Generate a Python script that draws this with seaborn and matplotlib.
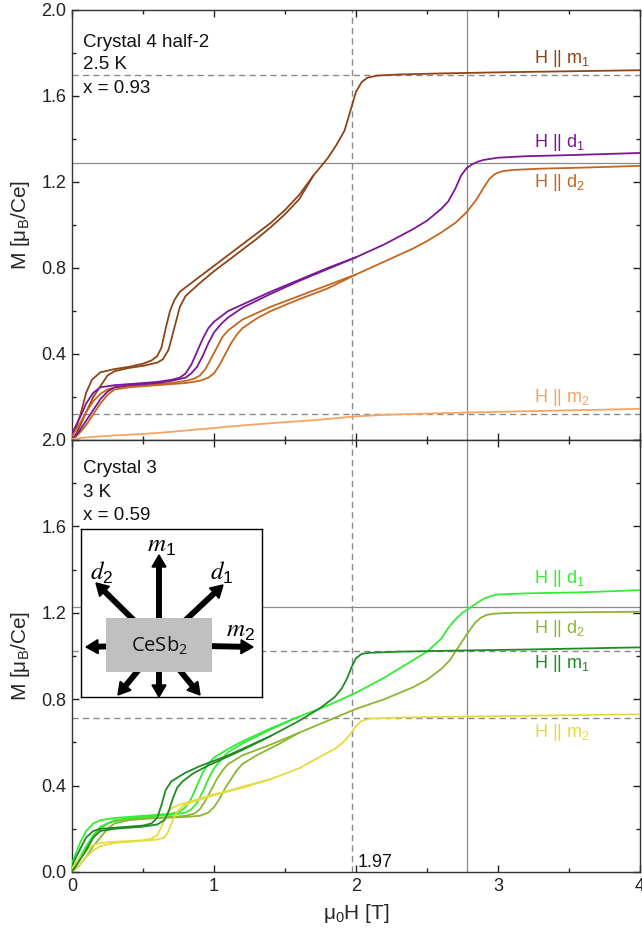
import pandas as pd
import matplotlib
matplotlib.use("Agg")
import matplotlib.pyplot as plt
import matplotlib.ticker as ticker
from matplotlib.patches import Rectangle, FancyArrow
import seaborn as sns

# ---------------- data (field in T, M in muB/Ce) ----------------
# Crystal 4 half-2, 2.5 K  (top panel)
top_m1_a_h = [0, 0.03, 0.06, 0.1, 0.14, 0.2, 0.3, 0.4, 0.5, 0.56, 0.6, 0.63, 0.66, 0.69, 0.72, 0.76, 0.8, 0.9, 1.0,
              1.1, 1.2, 1.3, 1.4, 1.5, 1.6, 1.7, 1.75, 1.8, 1.86, 1.92, 1.96, 2.0, 2.04, 2.08, 2.15, 2.3, 2.6, 3.0, 3.5, 4.0]
top_m1_a_m = [0.02, 0.06, 0.12, 0.22, 0.28, 0.315, 0.33, 0.34, 0.355, 0.37, 0.39, 0.43, 0.52, 0.6, 0.65, 0.69, 0.71, 0.76,
              0.81, 0.86, 0.91, 0.96, 1.01, 1.07, 1.14, 1.23, 1.27, 1.31, 1.37, 1.44, 1.53, 1.62, 1.665, 1.685, 1.695,
              1.70, 1.705, 1.71, 1.715, 1.72]
top_m1_b_h = [0, 0.03, 0.06, 0.1, 0.15, 0.2, 0.25, 0.3, 0.4, 0.5, 0.6, 0.64, 0.68, 0.72, 0.76, 0.8, 0.9, 1.0, 1.1, 1.2,
              1.3, 1.4, 1.5, 1.6, 1.7]
top_m1_b_m = [0.0, 0.03, 0.07, 0.13, 0.2, 0.25, 0.3, 0.32, 0.335, 0.345, 0.36, 0.375, 0.42, 0.52, 0.62, 0.67, 0.73,
              0.785, 0.835, 0.885, 0.935, 0.99, 1.05, 1.12, 1.23]

top_d1_a_h = [0, 0.03, 0.06, 0.1, 0.15, 0.2, 0.3, 0.4, 0.5, 0.6, 0.7, 0.76, 0.8, 0.84, 0.88, 0.92, 0.96, 1.0, 1.1, 1.2,
              1.4, 1.6, 1.8, 2.0, 2.2, 2.4, 2.5, 2.6, 2.65, 2.7, 2.74, 2.78, 2.82, 2.86, 2.9, 3.0, 3.2, 3.5, 4.0]
top_d1_a_m = [0.03, 0.07, 0.11, 0.17, 0.22, 0.245, 0.255, 0.26, 0.265, 0.27, 0.28, 0.29, 0.31, 0.35, 0.41, 0.47, 0.52,
              0.55, 0.6, 0.63, 0.69, 0.745, 0.8, 0.85, 0.91, 0.98, 1.02, 1.075, 1.11, 1.17, 1.23, 1.265, 1.283, 1.295,
              1.303, 1.313, 1.32, 1.325, 1.335]
top_d1_b_h = [0, 0.05, 0.1, 0.15, 0.2, 0.25, 0.3, 0.4, 0.5, 0.6, 0.7, 0.8, 0.84, 0.88, 0.92, 0.96, 1.0, 1.05, 1.1, 1.2,
              1.4, 1.6, 1.8, 2.0]
top_d1_b_m = [0.0, 0.04, 0.09, 0.14, 0.19, 0.225, 0.245, 0.255, 0.26, 0.265, 0.275, 0.29, 0.31, 0.34, 0.39, 0.45, 0.5,
              0.54, 0.57, 0.615, 0.68, 0.74, 0.795, 0.85]

top_d2_a_h = [0, 0.05, 0.1, 0.15, 0.2, 0.25, 0.3, 0.4, 0.5, 0.6, 0.7, 0.8, 0.86, 0.9, 0.94, 0.98, 1.02, 1.06, 1.1, 1.2,
              1.4, 1.6, 1.8, 2.0, 2.2, 2.4, 2.5, 2.6, 2.7, 2.78, 2.85, 2.9, 2.94, 2.98, 3.03, 3.1, 3.3, 3.6, 4.0]
top_d2_a_m = [0.02, 0.07, 0.13, 0.18, 0.215, 0.235, 0.245, 0.25, 0.255, 0.26, 0.265, 0.275, 0.285, 0.3, 0.33, 0.38,
              0.43, 0.48, 0.51, 0.56, 0.62, 0.67, 0.72, 0.77, 0.83, 0.89, 0.925, 0.965, 1.01, 1.06, 1.12, 1.175, 1.215,
              1.238, 1.25, 1.256, 1.262, 1.267, 1.275]
top_d2_b_h = [0, 0.05, 0.1, 0.15, 0.2, 0.25, 0.3, 0.4, 0.5, 0.6, 0.7, 0.8, 0.9, 0.96, 1.0, 1.04, 1.08, 1.12, 1.16, 1.2,
              1.3, 1.4, 1.6, 1.8, 2.0]
top_d2_b_m = [0.0, 0.03, 0.07, 0.12, 0.17, 0.21, 0.235, 0.245, 0.25, 0.255, 0.26, 0.265, 0.275, 0.29, 0.31, 0.35, 0.40,
              0.45, 0.49, 0.52, 0.565, 0.6, 0.655, 0.705, 0.77]

top_m2_h = [0, 0.1, 0.2, 0.3, 0.5, 0.7, 0.9, 1.1, 1.3, 1.5, 1.7, 1.9, 2.0, 2.2, 2.5, 2.8, 3.2, 3.6, 4.0]
top_m2_m = [0.005, 0.012, 0.017, 0.021, 0.028, 0.038, 0.05, 0.062, 0.073, 0.083, 0.092, 0.104, 0.11, 0.117, 0.123,
            0.128, 0.134, 0.139, 0.145]

# Crystal 3, 3 K  (bottom panel)
bot_m1_a_h = [0, 0.03, 0.06, 0.1, 0.15, 0.2, 0.3, 0.4, 0.5, 0.56, 0.6, 0.63, 0.66, 0.7, 0.75, 0.8, 0.9, 1.0, 1.1, 1.2,
              1.4, 1.6, 1.75, 1.85, 1.9, 1.94, 1.97, 2.0, 2.04, 2.1, 2.3, 2.7, 3.2, 4.0]
bot_m1_a_m = [0.03, 0.07, 0.11, 0.16, 0.19, 0.2, 0.205, 0.21, 0.215, 0.225, 0.25, 0.31, 0.38, 0.42, 0.44, 0.46, 0.49,
              0.515, 0.54, 0.57, 0.63, 0.7, 0.76, 0.81, 0.85, 0.9, 0.95, 0.99, 1.01, 1.015, 1.02, 1.025, 1.03, 1.04]
bot_m1_b_h = [0, 0.05, 0.1, 0.15, 0.2, 0.3, 0.4, 0.5, 0.6, 0.65, 0.68, 0.71, 0.74, 0.78, 0.85, 0.95, 1.05, 1.2, 1.4]
bot_m1_b_m = [0.0, 0.05, 0.1, 0.16, 0.19, 0.2, 0.205, 0.21, 0.22, 0.24, 0.28, 0.34, 0.39, 0.42, 0.455, 0.49, 0.52,
              0.565, 0.63]

bot_d1_a_h = [0, 0.03, 0.06, 0.1, 0.15, 0.2, 0.3, 0.4, 0.5, 0.6, 0.7, 0.76, 0.8, 0.84, 0.88, 0.92, 0.96, 1.0, 1.1, 1.2,
              1.4, 1.6, 1.8, 2.0, 2.2, 2.4, 2.5, 2.6, 2.65, 2.7, 2.75, 2.8, 2.85, 2.9, 2.95, 3.0, 3.2, 3.6, 4.0]
bot_d1_a_m = [0.04, 0.09, 0.14, 0.19, 0.225, 0.24, 0.25, 0.255, 0.26, 0.265, 0.27, 0.28, 0.3, 0.34, 0.4, 0.46, 0.5,
              0.53, 0.57, 0.605, 0.665, 0.72, 0.77, 0.83, 0.9, 0.98, 1.02, 1.08, 1.13, 1.17, 1.2, 1.222, 1.245, 1.265,
              1.278, 1.285, 1.29, 1.295, 1.305]
bot_d1_b_h = [0, 0.05, 0.1, 0.15, 0.2, 0.3, 0.4, 0.5, 0.6, 0.7, 0.8, 0.84, 0.88, 0.92, 0.96, 1.0, 1.05, 1.1, 1.2, 1.4,
              1.6]
bot_d1_b_m = [0.01, 0.06, 0.12, 0.17, 0.21, 0.24, 0.25, 0.255, 0.26, 0.265, 0.275, 0.29, 0.32, 0.37, 0.43, 0.48, 0.52,
              0.555, 0.595, 0.66, 0.72]

bot_d2_a_h = [0, 0.05, 0.1, 0.15, 0.2, 0.25, 0.3, 0.4, 0.5, 0.6, 0.7, 0.8, 0.86, 0.9, 0.94, 0.98, 1.02, 1.06, 1.1, 1.2,
              1.4, 1.6, 1.8, 2.0, 2.2, 2.4, 2.5, 2.6, 2.66, 2.72, 2.78, 2.84, 2.88, 2.92, 2.97, 3.1, 3.5, 4.0]
bot_d2_a_m = [0.02, 0.06, 0.11, 0.16, 0.2, 0.225, 0.235, 0.245, 0.25, 0.25, 0.255, 0.26, 0.27, 0.29, 0.33, 0.38, 0.43,
              0.47, 0.5, 0.54, 0.59, 0.645, 0.7, 0.755, 0.8, 0.855, 0.89, 0.94, 0.98, 1.04, 1.1, 1.155, 1.178, 1.19,
              1.196, 1.2, 1.202, 1.205]
bot_d2_b_h = [0, 0.05, 0.1, 0.15, 0.2, 0.25, 0.3, 0.4, 0.5, 0.6, 0.7, 0.8, 0.9, 0.96, 1.0, 1.04, 1.08, 1.12, 1.16, 1.2,
              1.3, 1.45, 1.6]
bot_d2_b_m = [0.0, 0.03, 0.07, 0.12, 0.16, 0.2, 0.225, 0.24, 0.245, 0.25, 0.252, 0.255, 0.26, 0.275, 0.3, 0.34, 0.39,
              0.43, 0.47, 0.5, 0.54, 0.59, 0.645]

bot_m2_a_h = [0, 0.05, 0.1, 0.15, 0.2, 0.3, 0.4, 0.5, 0.56, 0.6, 0.63, 0.66, 0.7, 0.75, 0.8, 0.9, 1.0, 1.1, 1.2, 1.4,
              1.6, 1.75, 1.85, 1.9, 1.95, 2.0, 2.04, 2.1, 2.3, 2.8, 3.4, 4.0]
bot_m2_a_m = [0.02, 0.06, 0.1, 0.125, 0.135, 0.14, 0.143, 0.147, 0.155, 0.17, 0.21, 0.26, 0.295, 0.31, 0.32, 0.34,
              0.36, 0.375, 0.395, 0.43, 0.48, 0.535, 0.57, 0.595, 0.63, 0.675, 0.7, 0.71, 0.715, 0.72, 0.725, 0.73]
bot_m2_b_h = [0, 0.05, 0.1, 0.15, 0.2, 0.3, 0.4, 0.5, 0.6, 0.65, 0.68, 0.71, 0.74, 0.78, 0.85, 0.95, 1.05, 1.2, 1.4]
bot_m2_b_m = [0.0, 0.03, 0.07, 0.1, 0.12, 0.135, 0.14, 0.145, 0.15, 0.16, 0.19, 0.24, 0.28, 0.305, 0.325, 0.345,
              0.365, 0.39, 0.43]

# reference lines
field_dashed = 1.97
field_solid = 2.78
top_hlines = [(1.70, "--"), (1.288, "-"), (0.122, "--")]
bot_hlines = [(1.227, "-"), (1.025, "--"), (0.713, "--")]

colors = {
    "top_m1": "#8b4517", "top_d1": "#7b1896", "top_d2": "#c4661f", "top_m2": "#f5a464",
    "bot_d1": "#34ec34", "bot_d2": "#8cb631", "bot_m1": "#1f8c22", "bot_m2": "#e4dc3e",
}

curves = [
    ("top", "top_m1", top_m1_a_h, top_m1_a_m), ("top", "top_m1", top_m1_b_h, top_m1_b_m),
    ("top", "top_d2", top_d2_a_h, top_d2_a_m), ("top", "top_d2", top_d2_b_h, top_d2_b_m),
    ("top", "top_d1", top_d1_a_h, top_d1_a_m), ("top", "top_d1", top_d1_b_h, top_d1_b_m),
    ("top", "top_m2", top_m2_h, top_m2_m),
    ("bot", "bot_d2", bot_d2_a_h, bot_d2_a_m), ("bot", "bot_d2", bot_d2_b_h, bot_d2_b_m),
    ("bot", "bot_d1", bot_d1_a_h, bot_d1_a_m), ("bot", "bot_d1", bot_d1_b_h, bot_d1_b_m),
    ("bot", "bot_m2", bot_m2_a_h, bot_m2_a_m), ("bot", "bot_m2", bot_m2_b_h, bot_m2_b_m),
    ("bot", "bot_m1", bot_m1_a_h, bot_m1_a_m), ("bot", "bot_m1", bot_m1_b_h, bot_m1_b_m),
]

labels = [
    ("top", "top_m1", "H || m$\\mathregular{_1}$", 1.753),
    ("top", "top_d1", "H || d$\\mathregular{_1}$", 1.363),
    ("top", "top_d2", "H || d$\\mathregular{_2}$", 1.177),
    ("top", "top_m2", "H || m$\\mathregular{_2}$", 0.177),
    ("bot", "bot_d1", "H || d$\\mathregular{_1}$", 1.338),
    ("bot", "bot_d2", "H || d$\\mathregular{_2}$", 1.106),
    ("bot", "bot_m1", "H || m$\\mathregular{_1}$", 0.944),
    ("bot", "bot_m2", "H || m$\\mathregular{_2}$", 0.625),
]

sns.set_theme(style="ticks")
plt.rcParams["font.family"] = ["Liberation Sans", "DejaVu Sans"]
plt.rcParams["mathtext.default"] = "regular"

W, H = 642, 939
fig = plt.figure(figsize=(W / 100, H / 100), dpi=100)
ax_top = fig.add_axes([72 / W, 1 - 440 / H, 568 / W, 430 / H])
ax_bot = fig.add_axes([72 / W, 1 - 872 / H, 568 / W, 432 / H], sharex=ax_top)
axes = {"top": ax_top, "bot": ax_bot}

grey = "#8a8a8a"
dash = (0, (4.5, 3))
for ax in (ax_top, ax_bot):
    ax.axvline(field_dashed, color=grey, lw=1.0, ls=dash, zorder=1)
    ax.axvline(field_solid, color=grey, lw=0.9, zorder=1)
for y, ls in top_hlines:
    ax_top.axhline(y, color=grey, lw=1.0 if ls == "--" else 0.9, ls=dash if ls == "--" else "-", zorder=1)
for y, ls in bot_hlines:
    ax_bot.axhline(y, color=grey, lw=1.0 if ls == "--" else 0.9, ls=dash if ls == "--" else "-", zorder=1)

for panel, key, hh, mm in curves:
    df = pd.DataFrame({"H": hh, "M": mm})
    sns.lineplot(data=df, x="H", y="M", ax=axes[panel], color=colors[key], lw=1.3,
                 sort=False, estimator=None, legend=False, zorder=3)

for panel, key, txt, y in labels:
    axes[panel].text(3.25, y, txt, color=colors[key], fontsize=13, ha="left", va="baseline")

for txt, y in [("Crystal 4 half-2", 1.828), ("2.5 K", 1.726), ("x = 0.93", 1.614)]:
    ax_top.text(0.077, y, txt, fontsize=13.5, color="#111111", va="baseline")
for txt, y in [("Crystal 3", 1.847), ("3 K", 1.736), ("x = 0.59", 1.63)]:
    ax_bot.text(0.077, y, txt, fontsize=13.5, color="#111111", va="baseline")
ax_bot.text(2.014, 0.023, "1.97", fontsize=13, color="#111111", va="baseline")

for name, ax in axes.items():
    ax.set_xlim(0, 4)
    ax.set_ylim(0, 2)
    ax.xaxis.set_major_locator(ticker.MultipleLocator(1))
    ax.xaxis.set_minor_locator(ticker.MultipleLocator(0.5))
    ax.set_yticks([0, 0.4, 0.8, 1.2, 1.6, 2.0])
    ax.yaxis.set_minor_locator(ticker.MultipleLocator(0.2))
    ax.tick_params(which="both", direction="in", top=True, right=True, colors="#222222",
                   labelsize=13, width=1.0, pad=4)
    ax.tick_params(which="major", length=5)
    ax.tick_params(which="minor", length=3)
    for s in ax.spines.values():
        s.set_color("#333333")
        s.set_linewidth(1.0)
    ax.set_ylabel("M [μ$\\mathregular{_B}$/Ce]", fontsize=15)
    ax.yaxis.set_label_coords(-0.07, 0.5)
    ax.set_xlabel("")

ax_top.set_yticklabels(["", "0.4", "0.8", "1.2", "1.6", "2.0"])
ax_bot.set_yticklabels(["0.0", "0.4", "0.8", "1.2", "1.6", "2.0"])
ax_top.tick_params(labelbottom=False)
ax_bot.xaxis.set_major_formatter(ticker.FormatStrFormatter("%d"))
ax_bot.set_xlabel("μ$\\mathregular{_0}$H [T]", fontsize=15)
ax_bot.xaxis.set_label_coords(0.5, -0.07)

# inset: schematic of the field directions (pixel units inside the inset)
ins = fig.add_axes([81 / W, 1 - 697 / H, 181 / W, 168 / H])
ins.set_xlim(81, 262)
ins.set_ylim(697, 529)
ins.set_xticks([])
ins.set_yticks([])
ins.set_facecolor("white")
for s in ins.spines.values():
    s.set_color("black")
    s.set_linewidth(1.0)
cx, cy = 159, 645
tips = [(159, 555), (223, 585), (96, 583), (86, 647), (253, 647), (118, 695), (159, 697), (200, 695)]
for tx, ty in tips:
    ins.add_patch(FancyArrow(cx, cy, tx - cx, ty - cy, width=4.5, head_width=14, head_length=12,
                             length_includes_head=True, color="black", zorder=2))
ins.add_patch(Rectangle((106, 618), 106, 54, facecolor="#c0c0c0", edgecolor="none", zorder=3))
ins.text(159, 646, "CeSb$\\mathregular{_2}$", ha="center", va="center", fontsize=14.5,
         family=["Open Sans", "DejaVu Sans"], color="#111111", zorder=4)
for txt, x, y in [("$\\mathit{m}_1$", 161, 546), ("$\\mathit{d}_2$", 102, 573),
                  ("$\\mathit{d}_1$", 222, 573), ("$\\mathit{m}_2$", 240, 631)]:
    ins.text(x, y, txt, ha="center", va="center", fontsize=18, math_fontfamily="stix", color="black", zorder=4)

fig.savefig("out.png", dpi=100)
